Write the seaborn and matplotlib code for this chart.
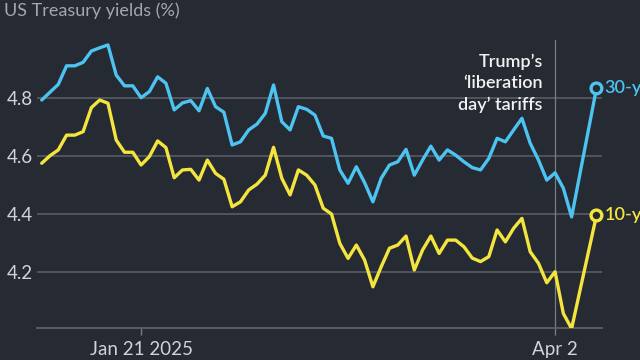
import matplotlib
matplotlib.use("Agg")
import matplotlib.pyplot as plt
import seaborn as sns
import pandas as pd

# ---- data ----
# trading-day index (Jan 21 2025 = 12, Apr 2 = 62)
day = list(range(65)) + [67]

yield_30y = [4.793, 4.820, 4.847, 4.911, 4.911, 4.923, 4.962, 4.973, 4.983, 4.879,
             4.842, 4.842, 4.801, 4.822, 4.873, 4.851, 4.759, 4.783, 4.791, 4.756,
             4.833, 4.770, 4.751, 4.638, 4.649, 4.690, 4.710, 4.747, 4.845, 4.718,
             4.690, 4.770, 4.761, 4.741, 4.669, 4.661, 4.552, 4.506, 4.563, 4.508,
             4.442, 4.523, 4.569, 4.580, 4.623, 4.534, 4.586, 4.634, 4.586, 4.621,
             4.603, 4.580, 4.560, 4.552, 4.592, 4.661, 4.649, 4.690, 4.730, 4.644,
             4.586, 4.517, 4.542, 4.489, 4.390, 4.833]

yield_10y = [4.575, 4.601, 4.621, 4.672, 4.672, 4.684, 4.767, 4.793, 4.782, 4.655,
             4.613, 4.613, 4.569, 4.598, 4.652, 4.629, 4.525, 4.552, 4.554, 4.517,
             4.586, 4.540, 4.520, 4.425, 4.442, 4.483, 4.503, 4.534, 4.630, 4.523,
             4.466, 4.552, 4.534, 4.500, 4.420, 4.400, 4.299, 4.247, 4.293, 4.241,
             4.149, 4.218, 4.282, 4.293, 4.324, 4.207, 4.276, 4.324, 4.264, 4.310,
             4.310, 4.287, 4.248, 4.236, 4.253, 4.345, 4.304, 4.351, 4.385, 4.270,
             4.230, 4.163, 4.201, 4.057, 4.005, 4.395]

series_names = ["30-yr", "10-yr"]
x_tick_days = [12, 62]
x_tick_labels = ["Jan 21 2025", "Apr 2"]
y_ticks = [4.2, 4.4, 4.6, 4.8]
title = "US Treasury yields (%)"
annotation = "Trump\u2019s\n\u2018liberation\nday\u2019 tariffs"
event_day = 62

# ---- style ----
BG = "#262a33"
BLUE = "#4cc3f1"
YELLOW = "#f4e53e"
GRID = "#5d6068"
TICKTXT = "#d2d3d6"
TITLETXT = "#a4a6ab"

sns.set_theme(style="dark", rc={
    "figure.facecolor": BG, "axes.facecolor": BG, "savefig.facecolor": BG,
})
plt.rcParams["font.family"] = ["Lato", "DejaVu Sans"]

df = pd.concat([
    pd.DataFrame({"day": day, "yield": yield_30y, "series": series_names[0]}),
    pd.DataFrame({"day": day, "yield": yield_10y, "series": series_names[1]}),
])
palette = {series_names[0]: BLUE, series_names[1]: YELLOW}

fig = plt.figure(figsize=(6.4, 3.6), dpi=100)
ax = fig.add_axes([37 / 640, 1 - 328 / 360, 565 / 640, 288 / 360])
ax.set_facecolor(BG)

sns.lineplot(data=df, x="day", y="yield", hue="series", palette=palette,
             linewidth=2.4, legend=False, ax=ax, zorder=3)

# end markers and labels
last = df.groupby("series").tail(1)
sns.scatterplot(data=last, x="day", y="yield", hue="series", palette=palette,
                s=60, facecolor=BG, linewidth=2.4, legend=False, ax=ax,
                zorder=4, clip_on=False)
for coll in ax.collections:
    cols = coll.get_facecolors()
    coll.set_edgecolors(cols)
    coll.set_facecolor(BG)
    coll.set_clip_on(False)

for _, r in last.iterrows():
    ax.annotate(r["series"], (r["day"], r["yield"]), xytext=(6.0, 0),
                textcoords="offset points", ha="left", va="center",
                color=palette[r["series"]], fontsize=13, fontweight="semibold",
                annotation_clip=False)

ax.set_xlim(-0.57, 67.67)
ax.set_ylim(4.007, 5.0)

ax.set_yticks(y_ticks)
ax.set_yticklabels([f"{v:.1f}" for v in y_ticks])
ax.set_xticks(x_tick_days)
ax.set_xticklabels(x_tick_labels)
ax.tick_params(axis="y", length=0, pad=3, labelsize=13.5, labelcolor=TICKTXT)
ax.tick_params(axis="x", length=5, width=1, color="#777a80", direction="out",
               pad=4.5, labelsize=13.5, labelcolor=TICKTXT, bottom=True)
ax.set_xlabel("")
ax.set_ylabel("")

ax.grid(axis="y", color=GRID, linewidth=1.1)
ax.grid(axis="x", visible=False)
for s in ["top", "right", "left"]:
    ax.spines[s].set_visible(False)
ax.spines["bottom"].set_color(GRID)
ax.spines["bottom"].set_linewidth(1.3)

ax.axvline(event_day, color="#7a7d83", linewidth=0.9, zorder=2)
ax.text(60.5, 4.851, annotation, ha="right", va="center", multialignment="right",
        color="#f2f2f2", fontsize=13, fontweight="semibold", linespacing=1.42,
        zorder=5)

fig.text(4 / 640, 1 - 2 / 360, title, ha="left", va="top", color=TITLETXT,
         fontsize=13)

fig.savefig("out.png", dpi=100, facecolor=BG)
